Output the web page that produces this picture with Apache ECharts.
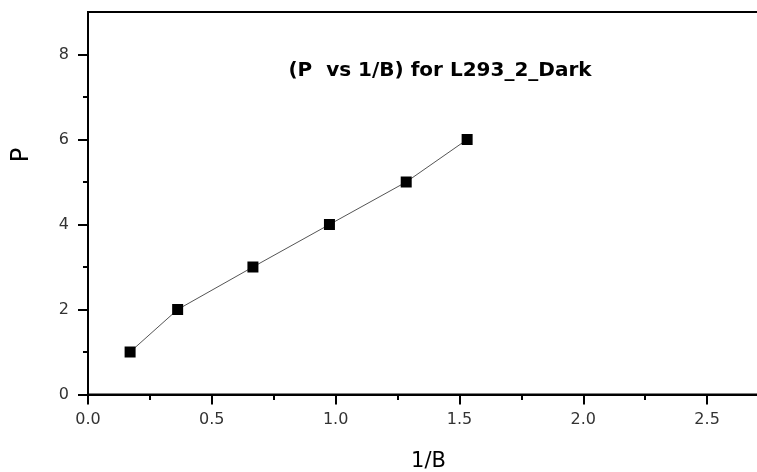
<!DOCTYPE html>
<html>
<head>
<meta charset="utf-8">
<script src="https://cdn.jsdelivr.net/npm/echarts@6/dist/echarts.min.js"></script>
<style>
  html, body { margin: 0; padding: 0; background: #fff; }
  #chart { width: 757px; height: 472px; }
</style>
</head>
<body>
<div id="chart"></div>
<script>
// Measured points: inverse field 1/B against index P
const invB = [0.170, 0.362, 0.666, 0.975, 1.285, 1.531];
const P = [1, 2, 3, 4, 5, 6];

// Axis ticks
const xMajor = [0, 0.5, 1.0, 1.5, 2.0, 2.5];
const xMinor = [0.25, 0.75, 1.25, 1.75, 2.25, 2.75];
const yMajor = [0, 2, 4, 6, 8];
const yMinor = [1, 3, 5, 7];

const titleText = '(P  vs 1/B) for L293_2_Dark';
const xName = '1/B';
const yName = 'P';

const FONT = 'DejaVu Sans';
const chart = echarts.init(document.getElementById('chart'), null, { renderer: 'canvas' });

const axisLine = { show: true, onZero: false, lineStyle: { color: '#000', width: 2 } };

chart.setOption({
  animation: false,
  backgroundColor: '#fff',
  grid: {
    left: 88, top: 12, right: -12, bottom: 77.5,
    outerBoundsMode: 'none', containLabel: false,
    show: true, borderColor: '#000', borderWidth: 2, backgroundColor: 'transparent'
  },
  xAxis: [
    {
      type: 'value', min: 0, max: 2.75,
      name: xName, nameLocation: 'middle', nameGap: 57,
      nameTextStyle: { fontFamily: FONT, fontSize: 21, color: '#000' },
      axisLine: axisLine,
      axisTick: { show: true, length: 10, inside: false, customValues: xMajor,
                  lineStyle: { color: '#000', width: 2 } },
      axisLabel: { show: true, customValues: xMajor, margin: 17,
                   formatter: v => v.toFixed(1),
                   fontFamily: FONT, fontSize: 16, color: '#333' },
      splitLine: { show: false }
    },
    {
      type: 'value', min: 0, max: 2.75, position: 'bottom',
      axisLine: { show: false },
      axisTick: { show: true, length: 5.5, customValues: xMinor,
                  lineStyle: { color: '#000', width: 2 } },
      axisLabel: { show: false },
      splitLine: { show: false }
    }
  ],
  yAxis: [
    {
      type: 'value', min: 0, max: 9,
      axisLine: axisLine,
      axisTick: { show: true, length: 10, customValues: yMajor,
                  lineStyle: { color: '#000', width: 2 } },
      axisLabel: { show: true, customValues: yMajor, margin: 19,
                   fontFamily: FONT, fontSize: 16, color: '#333' },
      splitLine: { show: false }
    },
    {
      type: 'value', min: 0, max: 9, position: 'left',
      axisLine: { show: false },
      axisTick: { show: true, length: 5, customValues: yMinor,
                  lineStyle: { color: '#000', width: 2 } },
      axisLabel: { show: false },
      splitLine: { show: false }
    }
  ],
  graphic: [
    {
      type: 'text', x: 440, y: 71,
      style: { text: titleText, font: 'bold 20px "' + FONT + '"', fill: '#000',
               align: 'center', verticalAlign: 'middle' }
    },
    {
      type: 'text', x: 22, y: 155, rotation: Math.PI / 2,
      style: { text: yName, font: '24px "' + FONT + '"', fill: '#000',
               align: 'center', verticalAlign: 'middle' }
    }
  ],
  series: [
    {
      type: 'line',
      data: invB.map((x, i) => [x, P[i]]),
      symbol: 'rect', symbolSize: 11,
      itemStyle: { color: '#000' },
      lineStyle: { color: '#555', width: 1 },
      z: 5
    }
  ]
});
</script>
</body>
</html>
